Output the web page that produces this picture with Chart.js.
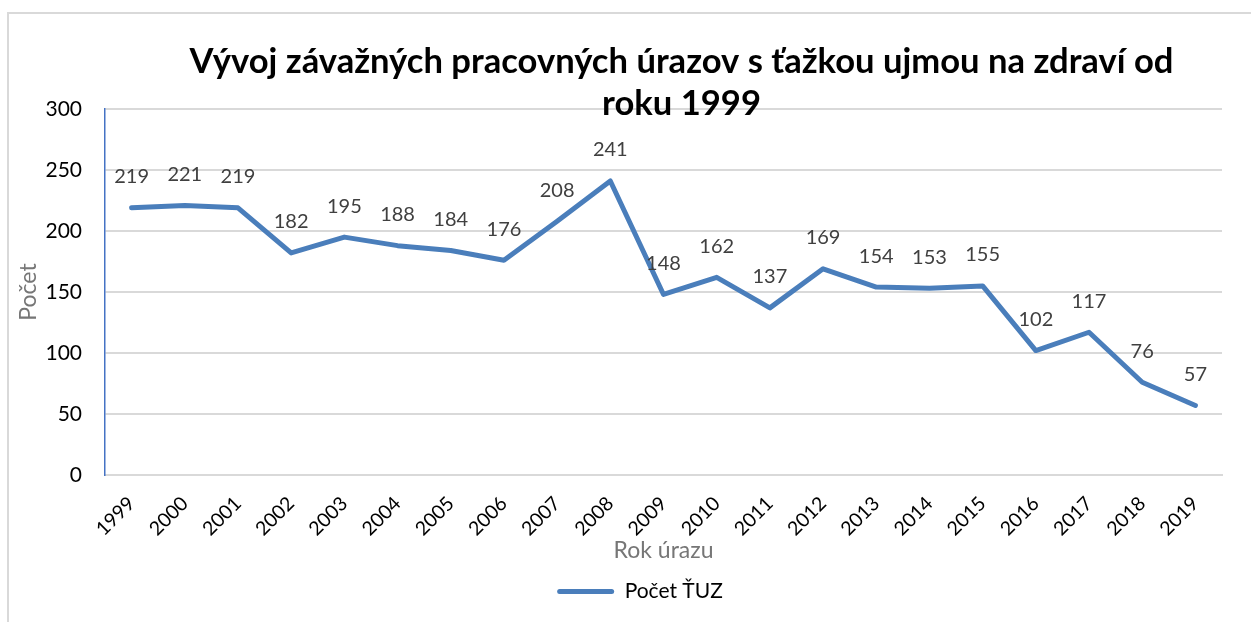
<!DOCTYPE html>
<html>
<head>
<meta charset="utf-8">
<script src="https://cdn.jsdelivr.net/npm/chart.js@4"></script>
<style>
  html, body { margin: 0; padding: 0; background: #fff; }
  #wrap { position: relative; width: 1251px; height: 622px; overflow: hidden; }
  #frame { position: absolute; left: 7px; top: 12px; width: 1300px; height: 700px;
           border-left: 2px solid #d9d9d9; border-top: 2px solid #d9d9d9; }
  canvas { position: absolute; left: 0; top: 0; }
</style>
</head>
<body>
<div id="wrap">
  <div id="frame"></div>
  <canvas id="c" width="1251" height="622"></canvas>
</div>
<script>
const titleLines = ['Vývoj závažných pracovných úrazov s ťažkou ujmou na zdraví od', 'roku 1999'];
const years = ['1999','2000','2001','2002','2003','2004','2005','2006','2007','2008','2009','2010','2011','2012','2013','2014','2015','2016','2017','2018','2019'];
const counts = [219,221,219,182,195,188,184,176,208,241,148,162,137,169,154,153,155,102,117,76,57];
const seriesName = 'Počet ŤUZ';
const xTitle = 'Rok úrazu';
const yTitle = 'Počet';

const FONT = 'Lato, "Open Sans", sans-serif';
const BLUE = '#4a7ebb';

const titlePlugin = {
  id: 'customTitle',
  afterLayout(chart) {
    if (chart.legend) { chart.legend.left += 50; }
  },
  afterDraw(chart) {
    const ctx = chart.ctx;
    const ca = chart.chartArea;
    ctx.save();
    ctx.font = 'bold 34.6px ' + FONT;
    ctx.fillStyle = '#000';
    ctx.textAlign = 'center';
    ctx.textBaseline = 'middle';
    const cx = (ca.left + ca.right) / 2 + 18;
    ctx.fillText(titleLines[0], cx, ca.top - 47);
    ctx.fillText(titleLines[1], cx, ca.top - 5);
    ctx.restore();
  }
};

const labelPlugin = {
  id: 'pointLabels',
  afterDatasetsDraw(chart) {
    const ctx = chart.ctx;
    const meta = chart.getDatasetMeta(0);
    ctx.save();
    ctx.font = '20px ' + FONT;
    ctx.fillStyle = '#404040';
    ctx.textAlign = 'center';
    ctx.textBaseline = 'middle';
    meta.data.forEach((pt, i) => {
      ctx.fillText(String(counts[i]), pt.x, pt.y - 31);
    });
    ctx.restore();
  }
};

new Chart(document.getElementById('c'), {
  type: 'line',
  data: {
    labels: years,
    datasets: [{
      label: seriesName,
      data: counts,
      borderColor: BLUE,
      backgroundColor: BLUE,
      borderWidth: 5,
      pointRadius: 0,
      pointHoverRadius: 0,
      tension: 0,
      borderJoinStyle: 'round',
      borderCapStyle: 'round',
      fill: false
    }]
  },
  options: {
    responsive: false,
    animation: false,
    events: [],
    layout: { padding: { left: 8, top: 109, right: 29, bottom: 10 } },
    plugins: {
      title: { display: false },
      tooltip: { enabled: false },
      legend: {
        display: true,
        position: 'bottom',
        labels: {
          font: { family: FONT, size: 21 },
          color: '#000',
          boxWidth: 57,
          boxHeight: 5,
          padding: 10,
          generateLabels() {
            return [{ text: seriesName, fillStyle: BLUE, strokeStyle: BLUE, lineWidth: 0, borderRadius: 2.5, datasetIndex: 0, hidden: false, fontColor: '#000' }];
          }
        }
      }
    },
    scales: {
      x: {
        offset: true,
        grid: { display: false, drawTicks: false },
        border: { display: true, color: '#d9d9d9', width: 2 },
        ticks: { font: { family: FONT, size: 19.5 }, color: '#000', minRotation: 45, maxRotation: 45, padding: 17, autoSkip: false },
        title: { display: true, text: xTitle, color: '#767676', font: { family: FONT, size: 23 }, padding: { top: 0, bottom: 7 } },
        afterFit(s) { s.height = 96; }
      },
      y: {
        min: 0, max: 300,
        ticks: { stepSize: 50, font: { family: FONT, size: 21 }, color: '#000', padding: 23 },
        grid: { color: '#d9d9d9', lineWidth: 2, drawTicks: false },
        border: { display: true, color: '#4472c4', width: 1.5 },
        title: { display: true, text: yTitle, color: '#767676', font: { family: FONT, size: 23 }, padding: { top: 7, bottom: 0 } },
        afterFit(s) { s.width = 97; }
      }
    }
  },
  plugins: [titlePlugin, labelPlugin]
});
</script>
</body>
</html>
